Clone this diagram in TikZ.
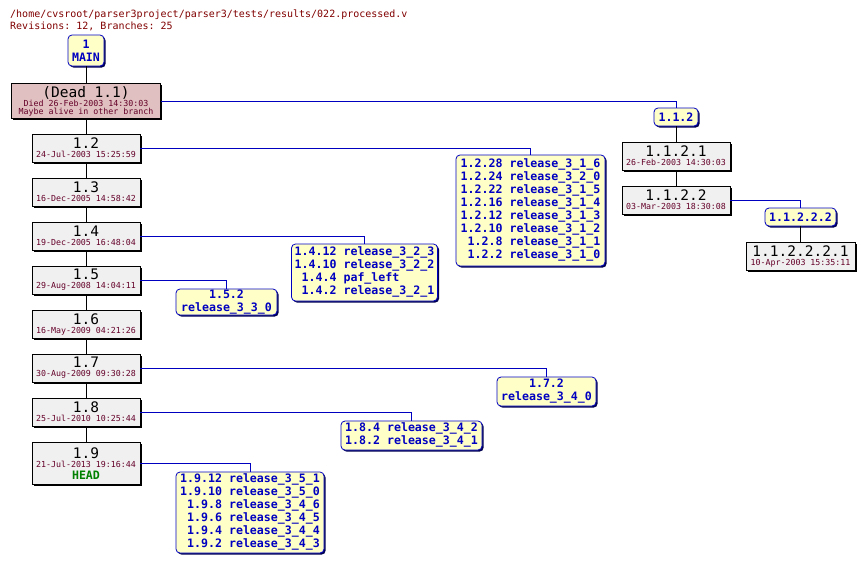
\documentclass[tikz,border=0pt]{standalone}
\usepackage{fontspec}
\setmonofont{DejaVu Sans Mono}
\usetikzlibrary{shadows}
\definecolor{revfill}{RGB}{240,240,240}
\definecolor{deadfill}{RGB}{224,192,192}
\definecolor{brfill}{RGB}{255,255,200}
\definecolor{brblue}{RGB}{0,0,192}
\definecolor{shdblue}{RGB}{0,0,80}
\definecolor{datecol}{RGB}{100,0,40}
\definecolor{hdrcol}{RGB}{128,0,0}
\definecolor{headgreen}{RGB}{0,128,0}
\newcommand\cvsbig{\ttfamily\fontsize{14.5}{14.5}\selectfont}
\newcommand\cvsdate{\ttfamily\fontsize{8.3}{9}\selectfont\color{datecol}}
\newcommand\cvsbr{\ttfamily\bfseries\fontsize{11.6}{13}\selectfont}
\newcommand\cvshdr{\ttfamily\fontsize{10}{12}\selectfont}
\newcommand\revtext[2]{{\cvsbig #1}\\[-0.5pt]{\cvsdate #2}}
\begin{document}
\begin{tikzpicture}[x=1pt,y=-1pt,
  rev/.style={draw=black, line width=0.8pt, fill=revfill, inner sep=0pt, align=center,
    minimum width=108pt, minimum height=28pt, font=\ttfamily\fontsize{8.3}{9.5}\selectfont,
    drop shadow={shadow xshift=1.6pt, shadow yshift=-1.6pt, fill=black, opacity=1}},
  br/.style={draw=brblue, line width=0.8pt, fill=brfill, rounded corners=4pt, inner sep=0pt,
    align=center, text=brblue, font=\cvsbr,
    drop shadow={shadow xshift=1.6pt, shadow yshift=-1.6pt, fill=shdblue, opacity=1}},
  trunk/.style={draw=black, line width=0.8pt},
  brline/.style={draw=brblue, line width=0.8pt}]
\path[use as bounding box] (0,0) rectangle (865,565);
% header
\node[anchor=base west, inner sep=0pt, text=hdrcol, font=\cvshdr] (hdr1) at (10,17)
  {/home/cvsroot/parser3project/parser3/tests/results/022.processed.v};
\node[anchor=base west, inner sep=0pt, text=hdrcol, font=\cvshdr] (hdr2) at (10,29)
  {Revisions: 12, Branches: 25};
% trunk
\node[br, minimum width=36pt, minimum height=31pt] (main) at (86,50.5) {1\\MAIN};
\node[rev, fill=deadfill, minimum width=149pt, minimum height=35pt] (dead) at (86,101)
  {{\cvsbig (Dead 1.1)}\\[-0.5pt]{\cvsdate Died 26-Feb-2003 14:30:03}\\[-1.5pt]{\cvsdate Maybe alive in other branch}};
\node[rev] (r12) at (86,148) {\revtext{1.2}{24-Jul-2003 15:25:59}};
\node[rev] (r13) at (86,192) {\revtext{1.3}{16-Dec-2005 14:58:42}};
\node[rev] (r14) at (86,236) {\revtext{1.4}{19-Dec-2005 16:48:04}};
\node[rev] (r15) at (86,280) {\revtext{1.5}{29-Aug-2008 14:04:11}};
\node[rev] (r16) at (86,324) {\revtext{1.6}{16-May-2009 04:21:26}};
\node[rev] (r17) at (86,368) {\revtext{1.7}{30-Aug-2009 09:30:28}};
\node[rev] (r18) at (86,412) {\revtext{1.8}{25-Jul-2010 10:25:44}};
\node[rev, minimum height=42pt] (r19) at (86,463.5)
  {{\cvsbig 1.9}\\[-0.5pt]{\cvsdate 21-Jul-2013 19:16:44}\\[2.5pt]{\cvsbr\color{headgreen}HEAD}};
% branch 1.1.2
\node[br, minimum width=44pt, minimum height=18pt] (b112) at (676,117) {1.1.2};
\node[rev] (r1121) at (676,156) {\revtext{1.1.2.1}{26-Feb-2003 14:30:03}};
\node[rev] (r1122) at (676,200) {\revtext{1.1.2.2}{03-Mar-2003 18:30:08}};
\node[br, minimum width=71pt, minimum height=18pt] (b11222) at (800.5,217) {1.1.2.2.2};
\node[rev, minimum width=109pt] (r112221) at (800.5,256) {\revtext{1.1.2.2.2.1}{10-Apr-2003 15:35:11}};
% branch boxes
\node[br, minimum width=149pt, minimum height=111pt] (b12) at (530.5,210.5)
  {\begin{tabular}{@{}r@{\ }l@{}}
  1.2.28 & release\_3\_1\_6\\
  1.2.24 & release\_3\_2\_0\\
  1.2.22 & release\_3\_1\_5\\
  1.2.16 & release\_3\_1\_4\\
  1.2.12 & release\_3\_1\_3\\
  1.2.10 & release\_3\_1\_2\\
  1.2.8 & release\_3\_1\_1\\
  1.2.2 & release\_3\_1\_0
  \end{tabular}};
\node[br, minimum width=146pt, minimum height=57pt] (b14) at (364.5,272.5)
  {\begin{tabular}{@{}r@{\ }l@{}}
  1.4.12 & release\_3\_2\_3\\
  1.4.10 & release\_3\_2\_2\\
  1.4.4 & paf\_left\\
  1.4.2 & release\_3\_2\_1
  \end{tabular}};
\node[br, minimum width=101pt, minimum height=26pt] (b15) at (226.5,302) {1.5.2\\release\_3\_3\_0};
\node[br, minimum width=99pt, minimum height=29pt] (b17) at (546.5,391.5) {1.7.2\\release\_3\_4\_0};
\node[br, minimum width=141pt, minimum height=29pt] (b18) at (411.5,435.5)
  {\begin{tabular}{@{}r@{\ }l@{}}
  1.8.4 & release\_3\_4\_2\\
  1.8.2 & release\_3\_4\_1
  \end{tabular}};
\node[br, minimum width=148pt, minimum height=81pt] (b19) at (250,512.5)
  {\begin{tabular}{@{}r@{\ }l@{}}
  1.9.12 & release\_3\_5\_1\\
  1.9.10 & release\_3\_5\_0\\
  1.9.8 & release\_3\_4\_6\\
  1.9.6 & release\_3\_4\_5\\
  1.9.4 & release\_3\_4\_4\\
  1.9.2 & release\_3\_4\_3
  \end{tabular}};
% trunk connectors
\draw[trunk] (main) -- (dead);
\draw[trunk] (dead) -- (r12);
\draw[trunk] (r12) -- (r13);
\draw[trunk] (r13) -- (r14);
\draw[trunk] (r14) -- (r15);
\draw[trunk] (r15) -- (r16);
\draw[trunk] (r16) -- (r17);
\draw[trunk] (r17) -- (r18);
\draw[trunk] (r18) -- (r19);
\draw[trunk] (b112) -- (r1121);
\draw[trunk] (r1121) -- (r1122);
\draw[trunk] (b11222) -- (r112221);
% branch connectors
\draw[brline] (dead.east) -| (b112.north);
\draw[brline] (r1122.east) -| (b11222.north);
\draw[brline] (r12.east) -| (b12.north);
\draw[brline] (r14.east) -| (b14.north);
\draw[brline] (r15.east) -| (b15.north);
\draw[brline] (r17.east) -| (b17.north);
\draw[brline] (r18.east) -| (b18.north);
\draw[brline] (r19.east) -| (b19.north);
\end{tikzpicture}
\end{document}
